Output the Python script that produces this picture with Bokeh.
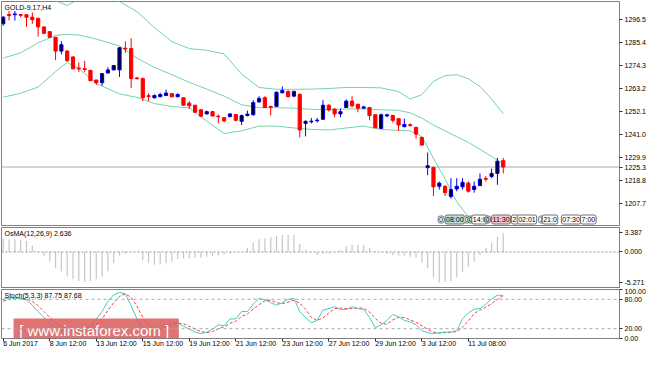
from bokeh.plotting import figure
from bokeh.layouts import column
from bokeh.models import ColumnDataSource, Range1d, FixedTicker, PrintfTickFormatter, Span, Label
from bokeh.core.properties import value
from bokeh.embed import file_html
from bokeh.resources import INLINE

FONT = "Liberation Sans"

# ---------------- data ----------------
opens = [1294.6, 1299.1, 1299.0, 1299.1, 1299.0, 1297.8, 1297.3, 1293.1, 1290.8, 1288.1,
         1281.4, 1281.4, 1278.6, 1273.2, 1272.9, 1272.1, 1267.4, 1266.1, 1270.8, 1272.3,
         1272.3, 1282.8, 1282.6, 1268.4, 1268.1, 1259.8, 1258.8, 1259.3, 1259.9, 1260.8,
         1259.3, 1258.8, 1256.2, 1255.2, 1253.0, 1251.0, 1252.1, 1249.9, 1249.2, 1249.7,
         1250.7, 1247.4, 1250.2, 1250.6, 1256.8, 1258.8, 1254.6, 1254.6, 1261.2, 1261.9,
         1259.6, 1260.4, 1246.4, 1247.2, 1247.7, 1248.4, 1255.2, 1253.4, 1251.0, 1254.1,
         1257.2, 1255.7, 1253.8, 1254.1, 1250.6, 1244.0, 1250.0, 1250.2, 1248.7, 1244.8,
         1245.8, 1244.5, 1239.6, 1225.0, 1225.0, 1216.0, 1216.0, 1211.0, 1214.7, 1215.7,
         1217.5, 1214.4, 1216.3, 1219.8, 1220.7, 1222.2, 1228.4]
highs = [1298.4, 1300.8, 1300.8, 1299.3, 1299.3, 1300.1, 1297.4, 1293.2, 1290.9, 1288.1,
         1286.2, 1282.0, 1278.7, 1275.9, 1276.7, 1272.2, 1267.5, 1270.8, 1273.6, 1274.7,
         1283.4, 1286.1, 1287.6, 1268.9, 1268.5, 1261.0, 1260.5, 1261.2, 1262.7, 1261.0,
         1261.0, 1258.9, 1257.2, 1255.4, 1253.3, 1252.6, 1252.3, 1250.7, 1249.5, 1251.4,
         1251.0, 1250.7, 1252.6, 1257.7, 1259.6, 1259.6, 1254.9, 1261.9, 1264.3, 1262.4,
         1262.2, 1261.0, 1247.9, 1249.0, 1249.0, 1257.7, 1255.7, 1253.5, 1253.6, 1258.0,
         1259.6, 1255.8, 1254.9, 1254.4, 1250.7, 1251.2, 1251.0, 1250.5, 1248.8, 1248.7,
         1246.4, 1244.6, 1240.0, 1232.3, 1225.5, 1218.3, 1216.4, 1219.9, 1219.9, 1219.9,
         1218.3, 1218.3, 1222.2, 1220.9, 1224.5, 1229.7, 1229.7]
lows = [1293.7, 1296.2, 1296.2, 1297.8, 1293.1, 1294.6, 1288.4, 1289.7, 1287.6, 1277.0,
        1279.8, 1276.4, 1272.7, 1271.3, 1271.3, 1266.8, 1265.0, 1264.6, 1270.5, 1272.1,
        1268.9, 1280.6, 1263.5, 1267.8, 1257.2, 1257.2, 1258.4, 1259.1, 1259.6, 1258.9,
        1259.1, 1254.9, 1253.4, 1251.6, 1249.5, 1250.7, 1249.8, 1246.4, 1247.0, 1249.3,
        1247.4, 1245.6, 1249.8, 1250.2, 1256.5, 1254.0, 1250.2, 1254.4, 1261.0, 1259.1,
        1259.3, 1239.6, 1240.1, 1246.4, 1246.8, 1248.1, 1252.1, 1249.4, 1249.4, 1254.1,
        1254.1, 1251.8, 1253.4, 1247.9, 1244.2, 1243.7, 1249.4, 1246.8, 1242.8, 1244.6,
        1244.8, 1239.0, 1235.7, 1221.4, 1211.3, 1214.4, 1211.3, 1210.0, 1213.6, 1214.4,
        1212.9, 1212.9, 1216.0, 1218.3, 1219.9, 1216.7, 1222.2]
closes = [1297.8, 1298.6, 1299.4, 1298.7, 1297.8, 1296.6, 1293.1, 1290.0, 1288.1, 1281.4,
          1284.5, 1276.7, 1272.8, 1272.8, 1272.5, 1267.1, 1266.1, 1270.5, 1272.3, 1274.4,
          1283.0, 1282.4, 1268.1, 1268.0, 1258.8, 1259.4, 1259.9, 1260.4, 1261.1, 1259.3,
          1260.4, 1255.2, 1254.9, 1251.8, 1249.9, 1252.1, 1250.0, 1249.6, 1247.6, 1251.0,
          1247.9, 1250.2, 1250.9, 1256.5, 1258.5, 1254.1, 1254.2, 1261.5, 1262.3, 1259.3,
          1261.9, 1243.2, 1247.4, 1247.5, 1248.0, 1255.2, 1252.9, 1251.0, 1252.1, 1257.2,
          1254.9, 1253.8, 1254.4, 1250.2, 1244.3, 1250.6, 1250.6, 1247.9, 1245.6, 1245.9,
          1245.4, 1241.2, 1235.9, 1225.9, 1215.7, 1217.5, 1212.9, 1214.4, 1216.0, 1217.9,
          1213.6, 1216.0, 1219.4, 1219.4, 1222.2, 1228.1, 1225.3]

# Bollinger bands, read at these bar numbers
bb_bar = [0, 3, 6, 9, 11, 13, 16, 20, 23, 26, 29, 32, 35, 38, 41, 44, 47, 50, 53, 56, 59,
          62, 65, 68, 70, 72, 74, 76, 78, 80, 82, 84, 86]
bb_upper = [1309.5, 1309.0, 1307.5, 1305.8, 1303.5, 1306.5, 1308.0, 1305.4, 1300.5, 1292.8,
            1286.0, 1282.6, 1281.8, 1280.0, 1270.3, 1263.8, 1262.9, 1262.9, 1263.0, 1263.3,
            1263.8, 1263.8, 1263.6, 1261.8, 1258.2, 1260.3, 1266.8, 1269.5, 1270.0, 1268.0,
            1264.3, 1258.2, 1251.0]
bb_middle = [1278.0, 1280.6, 1285.4, 1289.0, 1289.5, 1289.2, 1287.2, 1283.9, 1278.0, 1273.5,
             1270.0, 1266.3, 1263.0, 1259.6, 1255.4, 1254.0, 1254.0, 1253.8, 1253.2, 1253.1,
             1253.4, 1253.4, 1253.0, 1252.7, 1251.5, 1249.0, 1245.6, 1242.8, 1240.0, 1237.2,
             1233.9, 1230.4, 1226.7]
bb_lower = [1259.1, 1261.0, 1264.0, 1271.5, 1275.9, 1273.0, 1265.7, 1260.7, 1259.0, 1256.0,
            1254.6, 1253.9, 1247.5, 1241.5, 1242.8, 1245.1, 1245.1, 1244.2, 1243.5, 1243.2,
            1244.2, 1245.1, 1243.5, 1243.0, 1242.8, 1240.0, 1229.5, 1219.5, 1208.5, 1201.2,
            1200.0, 1200.5, 1201.5]

osma = [2.3, 2.2, 2.2, 2.1, 1.9, 1.1, 0.1, -0.7, -1.6, -2.8,
        -3.3, -4.2, -4.7, -5.0, -5.1, -5.0, -4.7, -4.2, -3.3, -1.9,
        -0.6, -0.3, -0.1, 0.0, -1.4, -1.8, -2.2, -2.1, -1.9, -1.7,
        -1.2, -1.1, -1.1, -1.0, -1.0, -0.8, -0.7, -0.6, -0.4, -0.3,
        -0.1, 0.0, 0.7, 1.6, 2.2, 2.3, 2.5, 2.8, 2.9, 2.9,
        2.9, 1.4, 0.4, -0.1, -0.5, -0.3, -0.2, -0.1, 0.3, 1.0,
        1.25, 1.25, 1.25, 0.7, 0.15, -0.1, -0.3, -0.5, -0.6, -0.6,
        -0.8, -1.0, -1.8, -2.8, -4.4, -5.271, -5.1, -5.0, -4.4, -3.4,
        -2.6, -1.7, -0.5, 0.7, 1.6, 2.6, 3.2]

stoch_k = [80, 83, 82, 82, 79, 68, 55, 43, 31, 22,
           18, 16, 19, 20, 20, 25, 40, 55, 76, 89,
           94, 91, 67, 40, 22, 16, 18, 25, 28, 32,
           32, 25, 19, 13, 10, 13, 19, 28, 26, 40,
           40, 55, 55, 70, 82, 79, 73, 68, 73, 80,
           82, 55, 43, 32, 37, 58, 61, 65, 59, 59,
           65, 61, 59, 43, 22, 28, 37, 49, 44, 37,
           34, 28, 16, 12, 10, 12, 13, 13, 16, 40,
           52, 60, 61, 70, 81, 88.5, 87.75]
stoch_d = [76, 80, 82, 82, 81, 76, 67, 55, 43, 32,
           24, 19, 18, 18, 20, 22, 28, 40, 57, 73,
           86, 91, 84, 66, 43, 26, 19, 20, 24, 28,
           31, 30, 25, 19, 14, 12, 14, 20, 24, 31,
           35, 45, 50, 60, 69, 77, 78, 73, 71, 74,
           78, 72, 60, 43, 37, 42, 52, 61, 62, 61,
           61, 62, 62, 54, 41, 31, 29, 38, 43, 43,
           38, 33, 26, 19, 13, 11, 12, 13, 14, 23,
           36, 51, 58, 64, 71, 80, 87.68]

time_tick_bars = [0, 8, 16, 24, 32, 40, 48, 56, 64, 72, 80]
time_tick_labels = ["6 Jun 2017", "8 Jun 12:00", "13 Jun 12:00", "15 Jun 12:00", "19 Jun 12:00",
                    "21 Jun 12:00", "23 Jun 12:00", "27 Jun 12:00", "29 Jun 12:00",
                    "3 Jul 12:00", "11 Jul 08:00"]

price_ticks = [1207.7, 1218.8, 1229.9, 1241.0, 1252.1, 1263.2, 1274.3, 1285.4, 1296.5]
osma_ticks = [-5.271, 0.0, 3.387]
stoch_ticks = [0, 20, 80, 100]
last_price = 1225.3

# object labels drawn near the bottom of the price window
obj_bar = [74.8, 76.0, 79.2, 79.9, 80.6, 82.8, 84.0, 87.4, 88.4, 92.1, 92.7, 96.0, 99.3]
obj_text = ["0", "08:00", "0", "0", "14:0", "0", "11:30", "2:", "02:01", "1", "21:0", "07:30", "7:00"]
obj_fill = ["white", "#b4e2de", "white", "#b4e2de", "white", "#b4e2de", "#f6c4cb",
            "white", "white", "white", "white", "white", "white"]
obj_price = 1199.9

# ---------------- figures ----------------
W = 648
RB = 28
n = len(opens)
bars = list(range(n))
x_range = Range1d(-0.3, 106.0)

AX = "#808080"


def style(p, ticks, fmt):
    p.grid.visible = False
    p.outline_line_color = AX
    p.outline_line_width = 1
    p.background_fill_color = "white"
    p.border_fill_color = "white"
    ax = p.yaxis[0]
    ax.ticker = FixedTicker(ticks=ticks)
    ax.formatter = PrintfTickFormatter(format=fmt)
    ax.major_label_text_font = FONT
    ax.major_label_text_font_size = "7px"
    ax.major_label_text_color = "black"
    ax.major_tick_in = 0
    ax.major_tick_out = 3
    ax.minor_tick_in = 0
    ax.minor_tick_out = 0
    ax.major_label_standoff = 2
    ax.axis_line_color = AX
    ax.major_tick_line_color = "#303030"


def title_label(p, text, yr):
    p.add_layout(Label(x=x_range.start, y=yr.end, x_offset=3, y_offset=-2, text=text,
                       text_font=FONT, text_font_size="7px", text_color="black",
                       text_baseline="top", text_align="left"))


# ---- main price window ----
yr_main = Range1d(1197.0, 1305.4)
p1 = figure(width=W, height=226, x_range=x_range, y_range=yr_main, output_backend="svg",
            toolbar_location=None, tools="", y_axis_location="right", x_axis_location=None,
            min_border_left=1, min_border_right=RB, min_border_top=1, min_border_bottom=1)
style(p1, price_ticks + [last_price], "%.1f")

p1.add_layout(Span(location=last_price, dimension="width", line_color="#c4c8cc",
                   line_width=1.5, level="underlay"))

band_color = "#74d3a4"
for band in (bb_upper, bb_middle, bb_lower):
    p1.line(bb_bar, band, line_color=band_color, line_width=1)

up = [c >= o for o, c in zip(opens, closes)]
src_up = ColumnDataSource(dict(
    x=[b for b, u in zip(bars, up) if u],
    h=[v for v, u in zip(highs, up) if u],
    l=[v for v, u in zip(lows, up) if u],
    top=[max(o, c) for o, c, u in zip(opens, closes, up) if u],
    bot=[min(o, c) for o, c, u in zip(opens, closes, up) if u]))
src_dn = ColumnDataSource(dict(
    x=[b for b, u in zip(bars, up) if not u],
    h=[v for v, u in zip(highs, up) if not u],
    l=[v for v, u in zip(lows, up) if not u],
    top=[max(o, c) for o, c, u in zip(opens, closes, up) if not u],
    bot=[min(o, c) for o, c, u in zip(opens, closes, up) if not u]))

p1.segment(x0="x", y0="h", x1="x", y1="l", source=src_up, line_color="#0000ff", line_width=1)
p1.segment(x0="x", y0="h", x1="x", y1="l", source=src_dn, line_color="#ff0000", line_width=1)
p1.vbar(x="x", top="top", bottom="bot", width=0.55, source=src_up,
        fill_color="#000000", line_color="#0000ff", line_width=1)
p1.vbar(x="x", top="top", bottom="bot", width=0.55, source=src_dn,
        fill_color="#ff0000", line_color="#ff0000", line_width=1)

for b, t, f in zip(obj_bar, obj_text, obj_fill):
    p1.add_layout(Label(x=b, y=obj_price, text=t, text_font=FONT, text_font_size="7px",
                        text_color="black", text_baseline="middle", text_align="left",
                        background_fill_color=f, border_line_color="#707070",
                        padding=1, border_radius=2))

title_label(p1, "GOLD-9.17,H4", yr_main)

# ---- OsMA window ----
yr_osma = Range1d(-6.11, 4.21)
p2 = figure(width=W, height=62, x_range=x_range, y_range=yr_osma, output_backend="svg",
            toolbar_location=None, tools="", y_axis_location="right", x_axis_location=None,
            min_border_left=1, min_border_right=RB, min_border_top=1, min_border_bottom=1)
style(p2, osma_ticks, "%.3f")
p2.add_layout(Span(location=0, dimension="width", line_color="#8c94a8", line_width=1,
                   line_dash="2 2"))
p2.segment(x0=bars, y0=[0] * n, x1=bars, y1=osma, line_color="#c6c6c6", line_width=1.2)
title_label(p2, "OsMA(12,26,9) 2.636", yr_osma)

# ---- Stochastic window ----
yr_st = Range1d(0, 100)
p3 = figure(width=W, height=65, x_range=x_range, y_range=yr_st, output_backend="svg",
            toolbar_location=None, tools="", y_axis_location="right", x_axis_location="below",
            min_border_left=1, min_border_right=RB, min_border_top=1, min_border_bottom=1)
style(p3, stoch_ticks, "%.2f")
for lvl in (20, 80):
    p3.add_layout(Span(location=lvl, dimension="width", line_color="#a8a8a8", line_width=1,
                       line_dash="3 3"))
p3.line(bars, stoch_d, line_color="#ff3b3b", line_width=1, line_dash="3 2")
p3.line(bars, stoch_k, line_color="#3ccfc4", line_width=1)

xa = p3.xaxis[0]
xa.ticker = FixedTicker(ticks=time_tick_bars)
xa.major_label_overrides = {b: t for b, t in zip(time_tick_bars, time_tick_labels)}
xa.major_label_text_font = FONT
xa.major_label_text_font_size = "7px"
xa.major_label_text_color = "black"
xa.major_label_orientation = -0.0001
xa.major_tick_in = 0
xa.major_tick_out = 3
xa.minor_tick_in = 0
xa.minor_tick_out = 0
xa.major_label_standoff = 2
xa.axis_line_color = AX
xa.major_tick_line_color = "#303030"

# watermark
p3.quad(left=1.77, right=30.2, bottom=-5, top=40.7, fill_color="#dc5a5a", fill_alpha=0.85,
        line_color=None)
p3.text(x=[16.0], y=[17], text=["[  www.instaforex.com ]"], text_font=value(FONT),
        text_font_size="15px", text_color="white", text_align="center",
        text_baseline="middle")
title_label(p3, "Stoch(5,3,3) 87.75 87.68", yr_st)

layout = column(p1, p2, p3)
open("out.html", "w").write(file_html(layout, INLINE))
